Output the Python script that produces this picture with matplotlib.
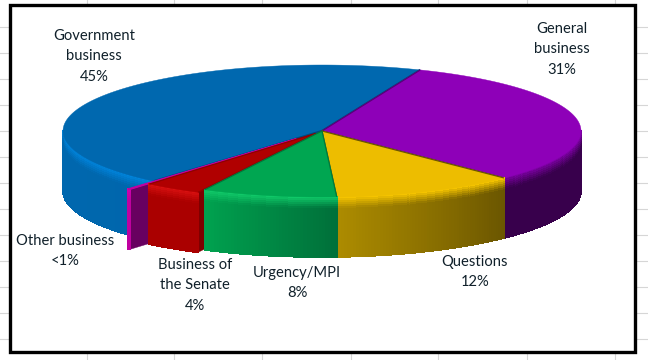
import numpy as np
import matplotlib
matplotlib.use("Agg")
import matplotlib.pyplot as plt
from matplotlib.collections import PolyCollection
from matplotlib.colors import to_rgb
from matplotlib.patches import Polygon, Rectangle

plt.rcParams['font.family'] = ['Lato', 'DejaVu Sans']

# data (clockwise from the first slice)
categories = ["General\nbusiness", "Questions", "Urgency/MPI",
              "Business of\nthe Senate", "Other business", "Government\nbusiness"]
values = [31.4, 11.5, 8.4, 3.6, 0.15, 44.95]
pct_labels = ["31%", "12%", "8%", "4%", "<1%", "45%"]
explode = [0, 0, 0, 0.045, 0.155, 0]
top_colors = ["#8E00B8", "#EDBD00", "#00A651", "#B00000", "#C000A0", "#0068AF"]
wall_left = ["#38004C", "#AD8C00", "#00A24F", "#AA0000", "#C000A0", "#0068AF"]
wall_right = ["#38004C", "#6B5600", "#00703A", "#AA0000", "#C000A0", "#0066AC"]
bevel = ["#7A00A0", "#F5C400", "#10C868", "#D81010", "#D000B0", "#0084DC"]
edge_colors = ["#5A0078", "#6B5600", "#007A3C", "#900000", "#C000A0", "#004A80"]
cut_colors = [None, None, None, "#7E0000", "#680060", "#00406E"]
label_xy = [(562, 29), (475, 262), (297, 273), (195, 265), (65, 241), (94, 36)]
start_angle = 22.3

CX, CY, RX, RY, DEPTH = 322, 131, 259, 66, 60

fig = plt.figure(figsize=(6.48, 3.6), dpi=100)
ax = fig.add_axes([0, 0, 1, 1])
ax.set_xlim(0, 648)
ax.set_ylim(360, 0)
ax.axis("off")
fig.patch.set_facecolor("white")

# sheet gridlines behind the chart
for x in [87, 174, 262, 351, 438, 527, 615]:
    ax.axvline(x, color="#D6D6D6", lw=0.8, zorder=0)
for y in np.arange(26, 360, 26):
    ax.axhline(y + 0.5, color="#D6D6D6", lw=0.8, zorder=0)
ax.add_patch(Rectangle((10, 5), 625, 347, fc="white", ec="black", lw=2.4, zorder=1))


def rim(theta, ox=0.0, oy=0.0):
    t = np.radians(theta)
    return CX + ox + RX * np.sin(t), CY + oy - RY * np.cos(t)


def lerp(a, b, t):
    return tuple((1 - t) * np.array(to_rgb(a)) + t * np.array(to_rgb(b)))


def draw_cut(theta, ox, oy, color, z):
    x, y = rim(theta, ox, oy)
    ax_, ay = CX + ox, CY + oy
    ax.add_patch(Polygon([(x, y), (ax_, ay), (ax_, ay + DEPTH), (x, y + DEPTH)],
                         fc=color, ec=color, lw=0.3, zorder=z))


def draw_wall(a0, a1, ox, oy, i, z):
    lo, hi = max(a0, 90), min(a1, 270)
    if lo >= hi:
        return
    th = np.linspace(lo, hi, max(int((hi - lo) * 1.5), 3))
    hs = np.linspace(0, DEPTH, 31)
    polys, cols = [], []
    for t0, t1 in zip(th[:-1], th[1:]):
        x0, y0 = rim(t0, ox, oy)
        x1, y1 = rim(t1, ox, oy)
        f = (t0 - lo) / max(hi - lo, 1e-6)
        base = lerp(wall_right[i], wall_left[i], f)
        for h0, h1 in zip(hs[:-1], hs[1:]):
            polys.append([(x0, y0 + h0), (x1, y1 + h0), (x1, y1 + h1), (x0, y0 + h1)])
            b = min(h0 / 11.0, 1.0)
            cols.append(lerp(bevel[i], base, b))
    ax.add_collection(PolyCollection(polys, facecolors=cols, edgecolors=cols,
                                     linewidths=0.6, antialiaseds=False, zorder=z))


# slice angles come straight from the values
edges = start_angle + np.cumsum([0] + values) * 3.6
order = [5, 0, 1, 4, 3, 2]  # painter's order, back to front
for z, i in enumerate(order):
    a0, a1 = edges[i], edges[i + 1]
    mid = np.radians((a0 + a1) / 2)
    ox = explode[i] * RX * np.sin(mid)
    oy = -explode[i] * RY * np.cos(mid)
    zz = 2 + z * 3
    if cut_colors[i]:
        draw_cut(a0, ox, oy, cut_colors[i], zz)
    draw_wall(a0, a1, ox, oy, i, zz + 1)
    th = np.linspace(a0, a1, max(int(a1 - a0) * 2, 3))
    xs, ys = rim(th, ox, oy)
    pts = [(CX + ox, CY + oy)] + list(zip(xs, ys))
    ax.add_patch(Polygon(pts, fc=top_colors[i], ec=top_colors[i], lw=0.3, zorder=zz + 2))
    xe, ye = rim(np.array([a0, a1]), ox, oy)
    ax.plot([xe[0], CX + ox, xe[1]], [ye[0], CY + oy, ye[1]],
            color=edge_colors[i], lw=0.9 if i != 5 else 1.6, zorder=zz + 2,
            solid_capstyle="butt")

for name, pct, (x, y) in zip(categories, pct_labels, label_xy):
    for k, line in enumerate((name + "\n" + pct).split("\n")):
        ax.text(x, y + k * 20.3, line, ha="center", va="center",
                fontsize=10.6, color="#10202A", zorder=40)

fig.savefig("out.png", dpi=100)
